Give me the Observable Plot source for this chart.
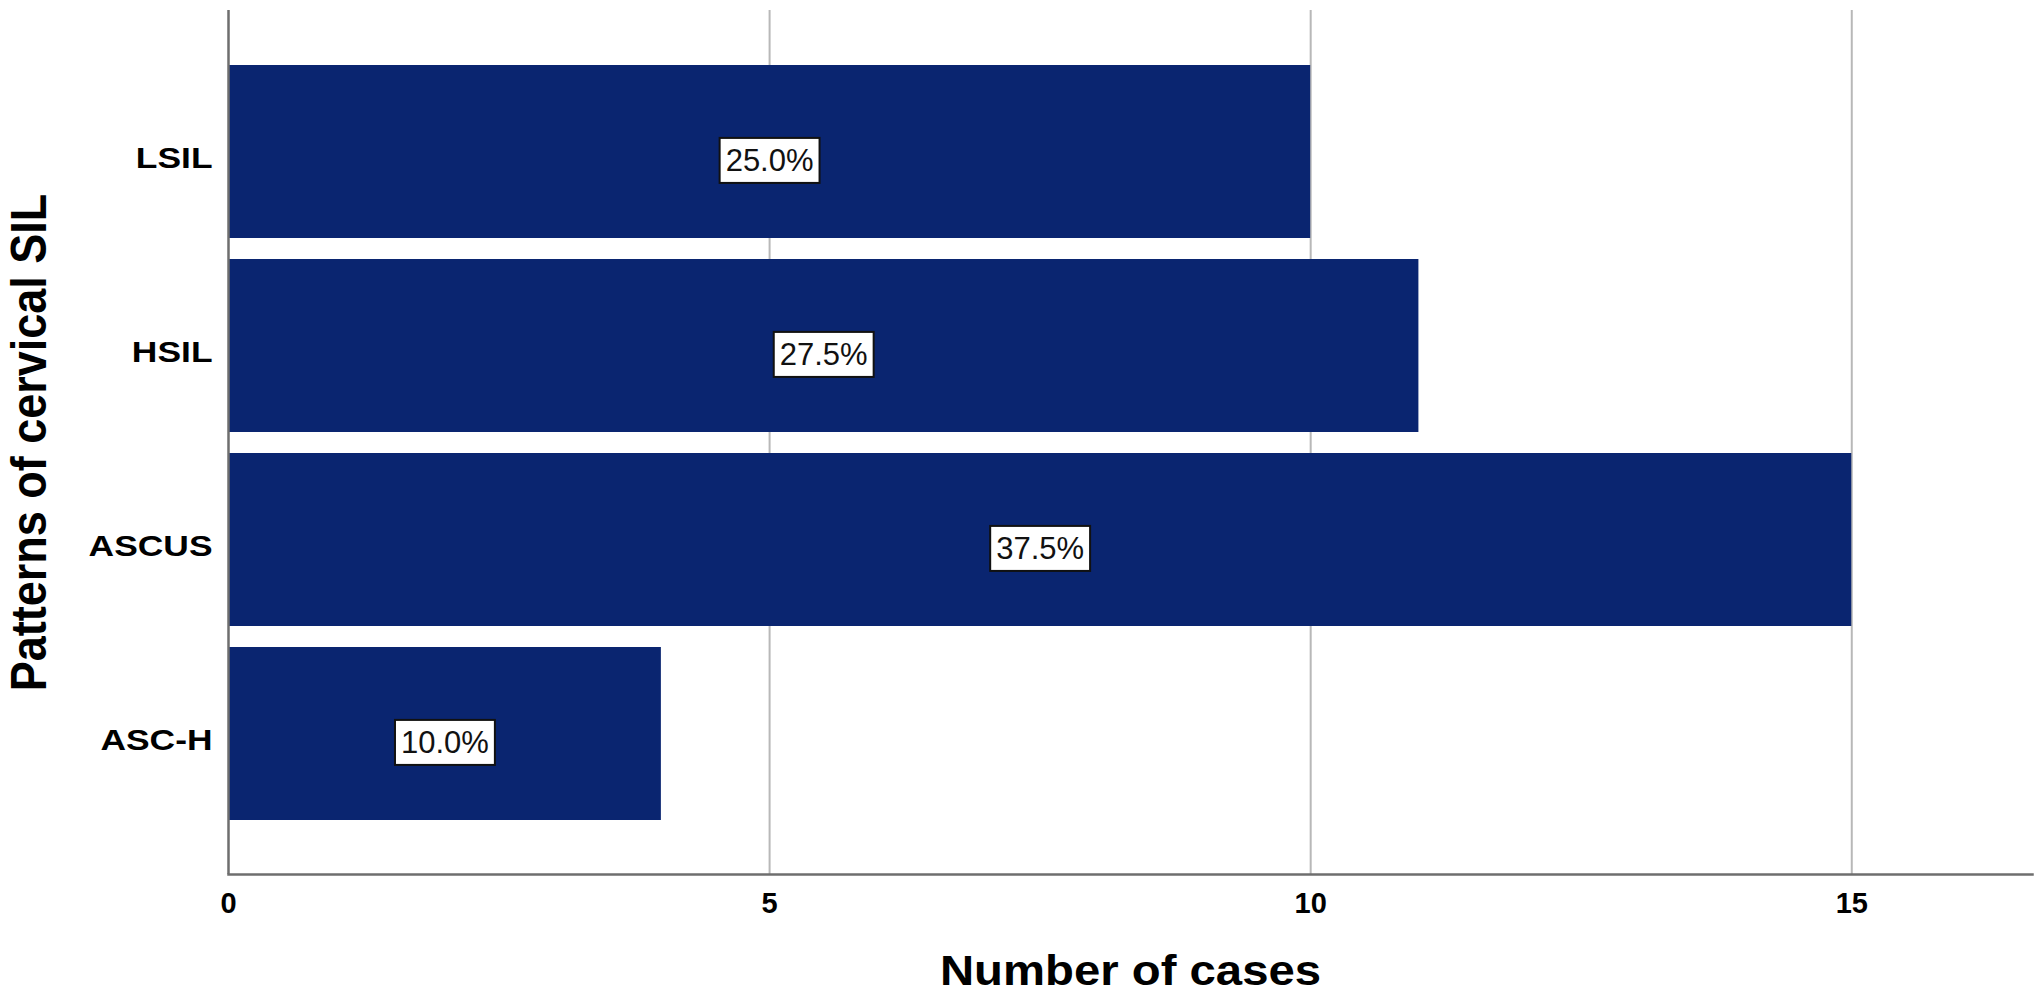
<!DOCTYPE html>
<html><head><meta charset="utf-8">
<script src="https://cdn.jsdelivr.net/npm/d3@7"></script>
<script src="https://cdn.jsdelivr.net/npm/@observablehq/plot@0.6"></script>
<style>
html,body{margin:0;padding:0;background:#fff;}
#chart svg{display:block;}
</style>
</head><body><div id="chart"></div>
<script>
const categories = ["LSIL", "HSIL", "ASCUS", "ASC-H"];
const counts = [10, 11, 15, 4];
const percentLabels = ["25.0%", "27.5%", "37.5%", "10.0%"];
const xTicks = [0, 5, 10, 15];
const xMax = 16.67;
const xTitle = "Number of cases";
const yTitle = "Patterns of cervical SIL";

const data = categories.map((c, i) => ({category: c, count: counts[i], label: percentLabels[i]}));

const chart = Plot.plot({
  width: 2040, height: 992,
  marginLeft: 228, marginRight: 8, marginTop: 10, marginBottom: 118,
  style: {fontFamily: "'Liberation Sans', Arial, sans-serif", fontSize: "29px", fontWeight: "bold", color: "#000", background: "#fff", overflow: "visible"},
  x: {domain: [0, xMax], ticks: xTicks, tickSize: 0, tickPadding: 18, label: null, tickFormat: d => String(d)},
  y: {domain: categories, type: "band", paddingInner: 0.11, paddingOuter: 0.28, tickSize: 0, tickPadding: 16, label: null},
  marks: [
    Plot.ruleX(xTicks.filter(d => d > 0), {stroke: "#b8b8b8", strokeWidth: 2}),
    Plot.barX(data, {x: "count", y: "category", fill: "#0a2570"}),
    Plot.ruleX([0], {stroke: "#6e6e6e", strokeWidth: 2.5}),
    Plot.frame({anchor: "bottom", stroke: "#6e6e6e", strokeWidth: 2.5}),
    Plot.text(data, {x: d => d.count / 2, y: "category", text: "label", dy: 9, fontSize: 31, fontWeight: "normal", fill: "#111"}),
    Plot.text([xTitle], {frameAnchor: "bottom", textAnchor: "middle", lineAnchor: "bottom", dy: 110, fontSize: 43, fontWeight: "bold", fill: "#000"}),
    Plot.text([yTitle], {frameAnchor: "left", textAnchor: "middle", lineAnchor: "middle", rotate: -90, dx: -198, fontSize: 45, fontWeight: "bold", fill: "#000"})
  ]
});
document.getElementById("chart").appendChild(chart);

function stretch(el, f) {
  const L = el.getComputedTextLength();
  el.setAttribute("textLength", (L * f).toFixed(2));
  el.setAttribute("lengthAdjust", "spacingAndGlyphs");
}
const svgNS = "http://www.w3.org/2000/svg";
chart.querySelectorAll("text").forEach(t => {
  const s = t.textContent;
  if (categories.includes(s)) {
    t.style.fontSize = "30px";
    stretch(t, 1.18);
    t.setAttribute("dy", "6.5");
  }
  else if (s === xTitle) stretch(t, 1.1);
  else if (s === yTitle) {
    t.setAttribute("transform", (t.getAttribute("transform") || "") + " scale(1,1.1)");
  } else if (percentLabels.includes(s)) {
    const b = t.getBBox();
    const w = t.getComputedTextLength();
    const cx = b.x + b.width / 2;
    const r = document.createElementNS(svgNS, "rect");
    r.setAttribute("x", cx - w / 2 - 6);
    r.setAttribute("y", b.y - 5);
    r.setAttribute("width", w + 12);
    r.setAttribute("height", b.height + 10);
    r.setAttribute("fill", "#fff");
    r.setAttribute("stroke", "#111");
    r.setAttribute("stroke-width", "2");
    if (t.getAttribute("transform")) r.setAttribute("transform", t.getAttribute("transform"));
    t.parentNode.insertBefore(r, t);
  }
});
</script>
</body></html>
